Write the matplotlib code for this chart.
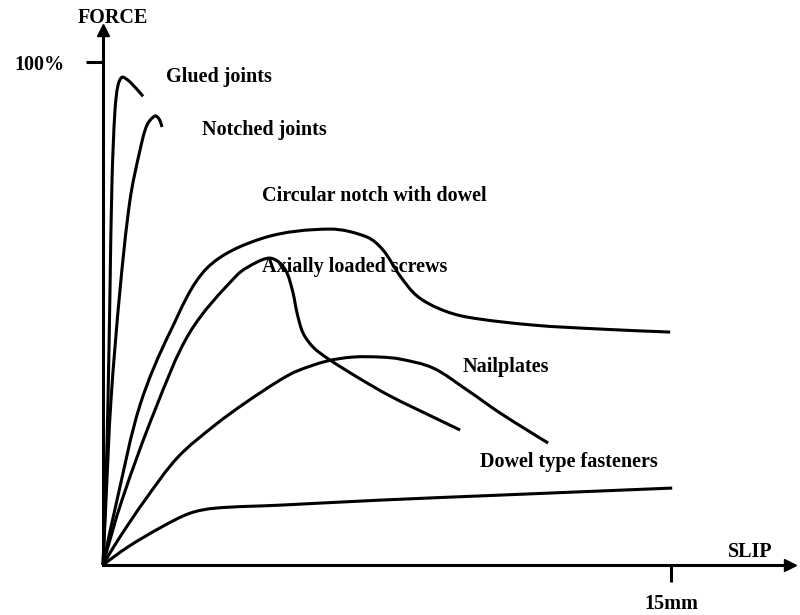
import matplotlib

matplotlib.use("Agg")
import matplotlib.pyplot as plt
import numpy as np
from matplotlib.path import Path
from matplotlib.patches import PathPatch

# slip in mm, force in % of max
glued_x = [0, 0.079, 0.132, 0.185, 0.238, 0.317, 0.396, 0.502, 0.660, 0.871, 1.056]
glued_y = [0, 16.9, 32.8, 54.7, 76.5, 90.5, 95.4, 97.0, 96.4, 94.8, 93.2]

notched_x = [0, 0.079, 0.211, 0.449, 0.713, 0.977, 1.162, 1.373, 1.479, 1.558]
notched_y = [0, 12.9, 32.8, 54.7, 72.6, 82.5, 87.5, 89.3, 88.7, 87.1]

circular_x = [0, 0.370, 0.977, 1.769, 2.746, 4.225, 5.994, 6.971, 7.394, 7.843, 8.292,
              8.899, 9.612, 11.355, 13.124, 14.973]
circular_y = [0, 12.92, 31.81, 46.32, 59.05, 65.01, 66.80, 65.21, 62.62, 57.46, 53.48,
              50.89, 49.30, 47.71, 46.92, 46.32]

screws_x = [0, 0.502, 1.373, 2.297, 3.538, 4.067, 4.410, 4.674, 4.859, 5.017, 5.123,
            5.281, 5.545, 5.915, 6.707, 7.579, 8.714, 9.427]
screws_y = [0, 12.92, 30.82, 46.32, 57.65, 60.24, 61.03, 60.04, 58.05, 54.08, 50.10,
            46.12, 43.34, 41.15, 37.38, 33.60, 29.42, 26.84]

nail_x = [0, 0.396, 1.109, 1.980, 2.957, 3.750, 4.674, 5.123, 5.915, 6.602, 7.314,
          7.843, 8.714, 9.612, 10.483, 11.751]
nail_y = [0, 4.97, 12.92, 21.47, 27.83, 32.21, 36.78, 38.57, 40.56, 41.35, 41.35,
          40.95, 39.17, 34.79, 30.22, 24.25]

dowel_x = [0, 0.660, 1.558, 2.297, 2.957, 4.674, 7.315, 10.483, 15.025]
dowel_y = [0, 3.6, 7.6, 10.3, 11.3, 11.9, 12.9, 13.9, 15.3]

labels = ["Glued joints", "Notched joints", "Circular notch with dowel",
          "Axially loaded screws", "Nailplates", "Dowel type fasteners"]
label_x = [1.664, 2.614, 4.199, 4.199, 9.480, 9.955]
label_y = [97.0, 86.5, 73.4, 59.2, 39.4, 20.5]

font = {"family": "Liberation Serif", "weight": "bold", "size": 14.5}


def smooth_path(ax, xs, ys):
    # hermite spline through the points, tangents weighted by on-screen chord length
    p = np.column_stack([xs, ys]).astype(float)
    d = np.hypot(*np.diff(ax.transData.transform(p), axis=0).T)
    n = len(p)
    m = np.zeros_like(p)
    for i in range(1, n - 1):
        m[i] = (p[i + 1] - p[i - 1]) / (d[i - 1] + d[i])
    # natural-ish ends
    m[0] = (3 * (p[1] - p[0]) / d[0] - m[1]) / 2
    m[-1] = (3 * (p[-1] - p[-2]) / d[-1] - m[-2]) / 2
    verts = [p[0]]
    codes = [Path.MOVETO]
    for i in range(n - 1):
        verts += [p[i] + m[i] * d[i] / 3, p[i + 1] - m[i + 1] * d[i] / 3, p[i + 1]]
        codes += [Path.CURVE4] * 3
    return Path(verts, codes)


fig = plt.figure(figsize=(8, 6.15), dpi=100)
ax = fig.add_axes([0.12875, 0.0813, 0.859, 0.870])
xmax, ymax = 18.14, 106.4
ax.set_xlim(0, xmax)
ax.set_ylim(0, ymax)

lw = 2.2
for xs, ys in [(glued_x, glued_y), (notched_x, notched_y), (circular_x, circular_y),
               (screws_x, screws_y), (nail_x, nail_y), (dowel_x, dowel_y)]:
    patch = PathPatch(smooth_path(ax, xs, ys), facecolor="none", edgecolor="black",
                      lw=lw, joinstyle="round", capstyle="butt", clip_on=False)
    ax.add_patch(patch)

for txt, x, y in zip(labels, label_x, label_y):
    ax.text(x, y, txt, ha="left", va="center", fontdict=font)

for side in ["top", "right"]:
    ax.spines[side].set_visible(False)
ax.spines["left"].set_linewidth(lw)
ax.spines["bottom"].set_linewidth(lw)

# arrow heads
ax.plot([xmax], [0], marker=">", color="black", ms=8, clip_on=False)
ax.plot([0], [ymax], marker="^", color="black", ms=8, clip_on=False)

ax.set_xticks([15])
ax.set_xticklabels(["15mm"], fontdict=font)
ax.set_yticks([100])
ax.set_yticklabels(["100%"], fontdict=font)
ax.tick_params(axis="both", direction="out", length=12, width=lw, pad=9)
ax.tick_params(axis="y", pad=16)

fig.text(113 / 800, 1 - 18 / 615, "FORCE", ha="center", va="center", fontdict=font)
fig.text(750 / 800, 1 - 552 / 615, "SLIP", ha="center", va="center", fontdict=font)

fig.savefig("out.png", dpi=100)
